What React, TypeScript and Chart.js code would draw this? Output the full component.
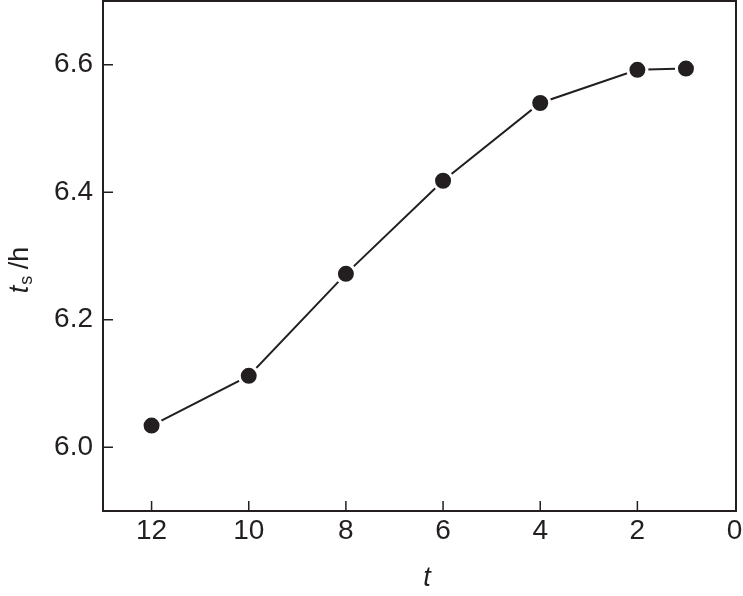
import React, { useEffect, useRef } from "react";
import { Chart, registerables } from "chart.js";

Chart.register(...registerables);

const tValues = [12, 10, 8, 6, 4, 2, 1];
const tsValues = [6.034, 6.112, 6.272, 6.418, 6.54, 6.592, 6.594];
const xTicks = [12, 10, 8, 6, 4, 2, 0];
const yTicks = [6.0, 6.2, 6.4, 6.6];

const INK = "#231f20";
const FONT = "'Liberation Sans', Arial, sans-serif";

const framePlugin = {
  id: "frameAndTitles",
  afterDraw(chart: any) {
    const { ctx, chartArea } = chart;
    const { left, right, top, bottom } = chartArea;
    const xs = chart.scales.x;
    const ys = chart.scales.y;
    ctx.save();
    ctx.strokeStyle = INK;
    ctx.lineWidth = 2;
    ctx.beginPath();
    ctx.rect(left, top, right - left, bottom - top);
    ctx.stroke();
    // inward ticks
    ctx.lineWidth = 1.5;
    ctx.beginPath();
    xTicks.forEach((v) => {
      const px = xs.getPixelForValue(v);
      if (px > left + 2 && px < right - 2) {
        ctx.moveTo(px, bottom);
        ctx.lineTo(px, bottom - 10);
      }
    });
    yTicks.forEach((v) => {
      const py = ys.getPixelForValue(v);
      ctx.moveTo(left, py);
      ctx.lineTo(left + 10, py);
    });
    ctx.stroke();

    // x title
    ctx.fillStyle = INK;
    ctx.textAlign = "center";
    ctx.textBaseline = "alphabetic";
    ctx.font = `italic 27px ${FONT}`;
    ctx.fillText("t", 427, 586);

    // y title: t_s /h rotated
    ctx.translate(28, 270);
    ctx.rotate(-Math.PI / 2);
    const fMain = `italic 27px ${FONT}`;
    const fSub = `18px ${FONT}`;
    const fRest = `27px ${FONT}`;
    ctx.font = fMain;
    const w1 = ctx.measureText("t").width;
    ctx.font = fSub;
    const w2 = ctx.measureText("s").width;
    ctx.font = fRest;
    const w3 = ctx.measureText(" /h").width;
    const total = w1 + w2 + w3;
    let x0 = -total / 2;
    ctx.textAlign = "left";
    ctx.font = fMain;
    ctx.fillText("t", x0, 0);
    x0 += w1 + 1;
    ctx.font = fSub;
    ctx.fillText("s", x0, 4);
    x0 += w2 - 1;
    ctx.font = fRest;
    ctx.fillText(" /h", x0, 0);
    ctx.restore();
  },
};

export default function App() {
  const ref = useRef<HTMLCanvasElement | null>(null);
  useEffect(() => {
    if (!ref.current) return;
    const chart = new Chart(ref.current, {
      type: "scatter",
      data: {
        datasets: [
          {
            data: tValues.map((t, i) => ({ x: t, y: tsValues[i] })),
            showLine: true,
            borderColor: INK,
            borderWidth: 2,
            pointRadius: 9.5,
            pointHoverRadius: 9.5,
            pointBorderWidth: 3,
            pointBorderColor: "#ffffff",
            pointBackgroundColor: INK,
          },
        ],
      },
      options: {
        animation: false,
        responsive: true,
        maintainAspectRatio: false,
        layout: { autoPadding: false, padding: { top: 1, right: 7, left: 0, bottom: 0 } },
        plugins: { legend: { display: false }, tooltip: { enabled: false } },
        scales: {
          x: {
            type: "linear",
            reverse: true,
            min: -0.03,
            max: 13,
            grid: { display: false, drawTicks: false },
            border: { display: false },
            ticks: {
              color: INK,
              font: { family: FONT, size: 28 },
              padding: 3,
              maxRotation: 0,
            },
            afterBuildTicks: (s: any) => {
              s.ticks = xTicks.map((v) => ({ value: v }));
            },
            afterFit: (s: any) => {
              s.height = 85;
              s.paddingLeft = 0;
              s.paddingRight = 0;
            },
          },
          y: {
            type: "linear",
            min: 5.9,
            max: 6.7,
            grid: { display: false, drawTicks: false },
            border: { display: false },
            ticks: {
              color: INK,
              font: { family: FONT, size: 28 },
              padding: 10,
              callback: (v: any) => Number(v).toFixed(1),
            },
            afterBuildTicks: (s: any) => {
              s.ticks = yTicks.map((v) => ({ value: v }));
            },
            afterFit: (s: any) => {
              s.width = 103;
              s.paddingTop = 0;
              s.paddingBottom = 0;
            },
          },
        },
      },
      plugins: [framePlugin],
    });
    return () => chart.destroy();
  }, []);
  return (
    <div style={{ position: "fixed", left: 0, top: 0, width: 743, height: 596, background: "#fff" }}>
      <canvas ref={ref} />
    </div>
  );
}
